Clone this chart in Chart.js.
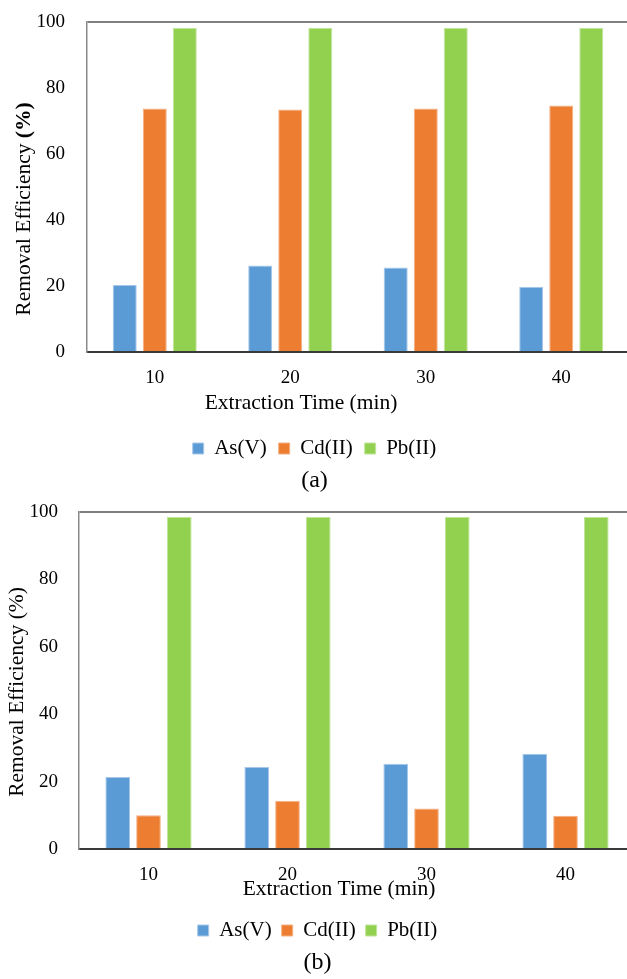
<!DOCTYPE html>
<html>
<head>
<meta charset="utf-8">
<script src="https://cdn.jsdelivr.net/npm/chart.js@4.4.1/dist/chart.umd.min.js"></script>
<style>
  html, body { margin: 0; padding: 0; background: #fff; }
  #page { position: relative; width: 627px; height: 979px; overflow: hidden; }
  .panel { position: absolute; left: 0; }
</style>
</head>
<body>
<div id="page">
  <div class="panel" id="boxA" style="top:0; width:629px; height:500px;"><canvas id="chartA"></canvas></div>
  <div class="panel" id="boxB" style="top:490px; width:635px; height:489px;"><canvas id="chartB"></canvas></div>
</div>
<script>
// extraction time (min)
const categories = ['10', '20', '30', '40'];
const seriesNames = ['As(V)', 'Cd(II)', 'Pb(II)'];
const yTickValues = [0, 20, 40, 60, 80, 100];

// panel (a)
const asA = [20.3, 26.2, 25.6, 19.8];
const cdA = [73.8, 73.5, 73.8, 74.7];
const pbA = [98.2, 98.2, 98.2, 98.2];

// panel (b)
const asB = [21.4, 24.3, 25.3, 28.3];
const cdB = [10.0, 14.3, 12.0, 9.9];
const pbB = [98.5, 98.5, 98.5, 98.5];

const FONT = "'Liberation Serif', 'Times New Roman', serif";
const fills = ['#5b9bd5', '#ed7d31', '#92d050'];
const edges = ['#a8c8ea', '#f4b083', '#c2e59c'];

// axis titles drawn by hand so that "(%)" can be bold and the x title sit off-centre
const axisText = {
    id: 'axisText',
    afterDraw(chart, args, o) {
        const ctx = chart.ctx;
        ctx.save();
        ctx.fillStyle = '#000';
        ctx.textBaseline = 'middle';
        ctx.translate(o.yX, o.yY);
        ctx.rotate(-Math.PI / 2);
        let total = 0;
        o.yParts.forEach(p => {
            ctx.font = (p.bold ? 'bold ' : '') + o.size + 'px ' + FONT;
            p.w = ctx.measureText(p.text).width;
            total += p.w;
        });
        let x = -total / 2;
        ctx.textAlign = 'left';
        o.yParts.forEach(p => {
            ctx.font = (p.bold ? 'bold ' : '') + o.size + 'px ' + FONT;
            ctx.fillText(p.text, x, 0);
            x += p.w;
        });
        ctx.restore();
        ctx.save();
        ctx.fillStyle = '#000';
        ctx.font = o.size + 'px ' + FONT;
        ctx.textAlign = 'center';
        ctx.textBaseline = 'middle';
        ctx.fillText(o.xText, o.xX, o.xY);
        ctx.restore();
    }
};

function makeChart(id, values, cfg) {
    return new Chart(document.getElementById(id), {
        type: 'bar',
        data: {
            labels: categories,
            datasets: values.map((v, i) => ({
                label: seriesNames[i],
                data: v,
                backgroundColor: fills[i],
                borderColor: edges[i],
                borderWidth: 1,
                categoryPercentage: 0.665,
                barPercentage: 0.8
            }))
        },
        options: {
            responsive: true,
            maintainAspectRatio: false,
            animation: false,
            layout: { padding: { top: 22, left: 0, right: 0, bottom: cfg.padBottom } },
            plugins: {
                legend: {
                    position: 'bottom',
                    labels: {
                        boxWidth: 11,
                        boxHeight: 11,
                        padding: cfg.legendPad,
                        color: '#000',
                        font: { family: FONT, size: 21 }
                    }
                },
                title: {
                    display: true,
                    position: 'bottom',
                    text: cfg.caption,
                    color: '#000',
                    padding: 0,
                    font: { family: FONT, size: 24, weight: 'normal', lineHeight: 1 }
                },
                tooltip: { enabled: false },
                axisText: {
                    size: 21.5,
                    yParts: cfg.yParts,
                    yX: cfg.yX, yY: cfg.yY,
                    xText: 'Extraction Time (min)',
                    xX: cfg.xX, xY: cfg.xY
                }
            },
            scales: {
                x: {
                    grid: { display: false, drawTicks: false, tickLength: 0 },
                    border: { color: '#3a3a3a', width: 2 },
                    ticks: { color: '#000', padding: 15, font: { family: FONT, size: 19 } },
                    afterFit: s => { s.height = cfg.xHeight; }
                },
                y: {
                    min: 0,
                    max: 100,
                    afterBuildTicks: s => { s.ticks = yTickValues.map(v => ({ value: v })); },
                    grid: {
                        drawTicks: false,
                        tickLength: 0,
                        lineWidth: 2,
                        color: c => (c.tick && c.tick.value === 100 ? '#7f7f7f' : 'rgba(0,0,0,0)')
                    },
                    border: { color: '#8a8a8a', width: 1.5 },
                    ticks: { color: '#000', padding: cfg.yPad, font: { family: FONT, size: 19 } },
                    afterFit: s => {
                        s.width = cfg.yWidth;
                        s.paddingTop = 0;
                        s.paddingBottom = 0;
                    }
                }
            }
        },
        plugins: [axisText]
    });
}

document.addEventListener('DOMContentLoaded', function() {
    makeChart('chartA', [asA, cdA, pbA], {
        caption: '(a)',
        padBottom: 7,
        legendPad: 12,
        xHeight: 74,
        yWidth: 87,
        yPad: 22,
        yParts: [{ text: 'Removal Efficiency ', bold: false }, { text: '(%)', bold: true }],
        yX: 24, yY: 209,
        xX: 301, xY: 403
    });
    makeChart('chartB', [asB, cdB, pbB], {
        caption: '(b)',
        padBottom: 4,
        legendPad: 10,
        xHeight: 61,
        yWidth: 79,
        yPad: 21,
        yParts: [{ text: 'Removal Efficiency (%)', bold: false }],
        yX: 17, yY: 202,
        xX: 339, xY: 399
    });
});
</script>
</body>
</html>
